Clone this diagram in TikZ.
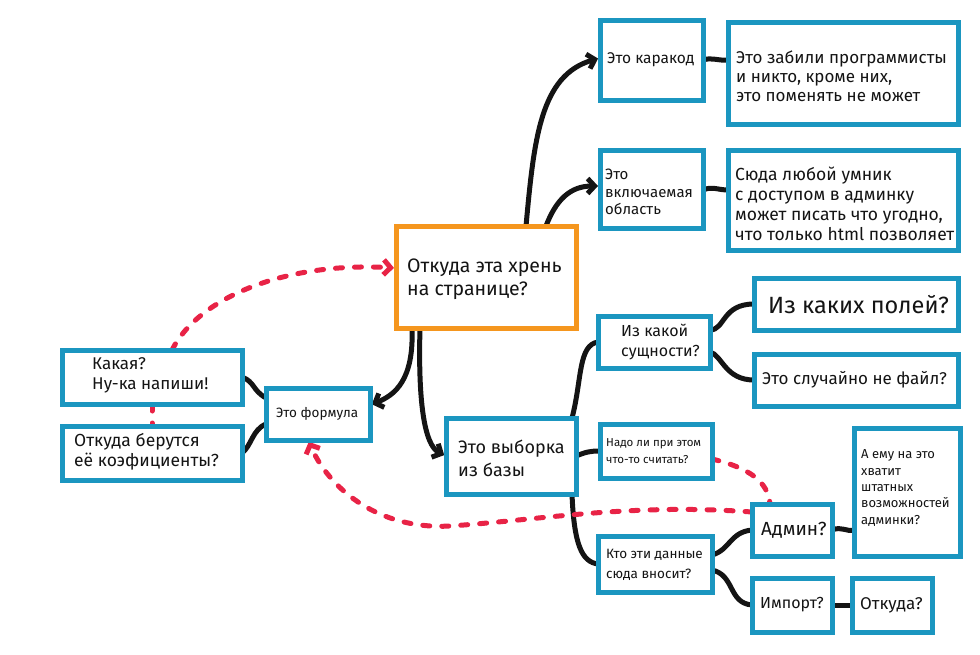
\documentclass[tikz,border=0pt]{standalone}
\usepackage{fontspec}
\setmainfont{Fira Sans}
\usetikzlibrary{arrows.meta}
\pgfdeclarelayer{bg}
\pgfsetlayers{bg,main}
\definecolor{bl}{RGB}{27,150,192}
\definecolor{orng}{RGB}{245,150,30}
\definecolor{rd}{RGB}{232,35,70}
\definecolor{ink}{RGB}{20,20,20}
\begin{document}
\begin{tikzpicture}[x=1pt,y=-1pt,
  box/.style={draw=bl, line width=5pt, fill=white, anchor=north west, inner sep=0, outer sep=0},
  obox/.style={box, draw=orng},
  t/.style 2 args={anchor=west, inner sep=0, align=left, text=ink, font=\fontsize{#1}{#2}\selectfont},
  link/.style={ink, line width=5pt, line cap=round},
  arr/.style={link, -{Straight Barb[length=7pt,width=15pt]}, shorten >=2pt},
  reddots/.style={rd, line width=5pt, line cap=round, dash pattern=on 7pt off 12pt},
  rarr/.style={reddots, -{Straight Barb[length=7pt,width=15pt]}, shorten >=2pt}
]
\useasboundingbox (0,0) rectangle (980,654);

% boxes
\node[obox, minimum width=180pt, minimum height=102pt] (main) at (396,226) {};
\node[box, minimum width=103pt, minimum height=80pt] (kar) at (600,20) {};
\node[box, minimum width=230pt, minimum height=102pt] (zab) at (728,22) {};
\node[box, minimum width=103pt, minimum height=78pt] (vkl) at (600,150) {};
\node[box, minimum width=230pt, minimum height=100pt] (syuda) at (728,150) {};
\node[box, minimum width=112pt, minimum height=52pt] (sush) at (598,316) {};
\node[box, minimum width=204pt, minimum height=52pt] (pol) at (754,278) {};
\node[box, minimum width=204pt, minimum height=52pt] (fail) at (754,354) {};
\node[box, minimum width=130pt, minimum height=76pt] (vyb) at (446,418) {};
\node[box, minimum width=112pt, minimum height=54pt] (nado) at (600,424) {};
\node[box, minimum width=106pt, minimum height=128pt] (emu) at (854,428) {};
\node[box, minimum width=80pt, minimum height=52pt] (adm) at (752,504) {};
\node[box, minimum width=114pt, minimum height=56pt] (kto) at (598,536) {};
\node[box, minimum width=80pt, minimum height=54pt] (imp) at (752,578) {};
\node[box, minimum width=80pt, minimum height=54pt] (otk) at (852,578) {};
\node[box, minimum width=104pt, minimum height=52pt] (form) at (266,388) {};
\node[box, minimum width=180pt, minimum height=54pt] (kak) at (62,350) {};
\node[box, minimum width=180pt, minimum height=54pt] (koef) at (62,426) {};

% texts
\node[t={19.5}{23}] (mainT) at (407,279) {Откуда эта хрень\\на странице?};
\node[t={15.5}{16}] (karT) at (607,60) {Это каракод};
\node[t={17}{19}] (zabT) at (736,76) {Это забили программисты\\и никто, кроме них,\\это поменять не может};
\node[t={15}{17.5}] (vklT) at (605,192) {Это\\включаемая\\область};
\node[t={17.5}{20}] (syudaT) at (735,204) {Сюда любой умник\\с доступом в админку\\может писать что угодно,\\что только html позволяет};
\node[t={16}{20}] (sushT) at (621,342) {Из какой\\сущности?};
\node[t={23.5}{28}] (polT) at (768,305) {Из каких полей?};
\node[t={17}{20}] (failT) at (762,380) {Это случайно не файл?};
\node[t={18}{23}] (vybT) at (458,458) {Это выборка\\из базы};
\node[t={11.5}{17}] (nadoT) at (606,451) {Надо ли при этом\\что-то считать?};
\node[t={13}{16.3}] (emuT) at (861,488) {А ему на это\\хватит\\штатных\\возможностей\\админки?};
\node[t={19}{23}] (admT) at (761,530) {Админ?};
\node[t={13.5}{20}] (ktoT) at (606,565) {Кто эти данные\\сюда вносит?};
\node[t={16}{20}] (impT) at (760,605) {Импорт?};
\node[t={17}{20}] (otkT) at (860,605) {Откуда?};
\node[t={13.5}{16}] (formT) at (276,414) {Это формула};
\node[t={17}{20}] (kakT) at (92,375) {Какая?\\Ну-ка напиши!};
\node[t={17.5}{20}] (koefT) at (74,452) {Откуда берутся\\её коэфициенты?};

\begin{pgfonlayer}{bg}
% black connectors
\draw[arr] ([xshift=130pt]main.north west) .. controls (534,140) and (540,75) .. ([yshift=2pt]kar.west);
\draw[arr] ([xshift=150pt]main.north west) .. controls (556,200) and (570,186) .. ([yshift=3pt]vkl.west);
\draw[link] (kar.east) .. controls (712,57) and (718,61) .. (kar.east -| zab.west);
\draw[link] ([yshift=-1pt]vkl.east) .. controls (712,186) and (718,190) .. ([yshift=-1pt]vkl.east -| syuda.west);
\draw[arr] ([xshift=16pt]main.south west) .. controls (414,380) and (395,395) .. ([yshift=9pt]form.east);
\draw[arr] ([xshift=24pt]main.south west) .. controls (418,400) and (424,445) .. (vyb.west);
\draw[link] ([xshift=-4pt]vyb.north east) .. controls (582,380) and (578,345) .. (sush.west);
\draw[link] (vyb.east) .. controls (586,452) and (590,451) .. ([yshift=0pt]nado.west);
\draw[link] ([xshift=-4pt]vyb.south east) .. controls (574,545) and (582,562) .. (kto.west);
\draw[link] ([yshift=12pt]sush.east) .. controls (725,330) and (722,304) .. (pol.west);
\draw[link] ([yshift=-10pt]sush.east) .. controls (722,355) and (725,380) .. (fail.west);
\draw[link] ([yshift=9pt]kto.east) .. controls (730,550) and (730,532) .. (adm.west);
\draw[link] ([yshift=-6pt]kto.east) .. controls (735,575) and (728,603) .. (imp.west);
\draw[link] (adm.east) .. controls (842,526) and (846,532) .. (adm.east -| emu.west);
\draw[link] (imp.east) -- (otk.west);
\draw[link] ([yshift=16pt]form.west) .. controls (252,390) and (255,382) .. (kak.east);
\draw[link] ([yshift=-10pt]form.west) .. controls (252,430) and (252,445) .. (koef.east);
% red dotted connectors
\draw[rarr] ([xshift=110pt]kak.north west) .. controls (200,295) and (290,262) .. ([yshift=9pt]main.west);
\draw[reddots] (kak.south -| koef.north) -- (koef.north);
\draw[rarr] ([yshift=18pt]adm.west) .. controls (630,503) and (540,520) .. (450,526)
   .. controls (380,530) and (330,490) .. ([xshift=-10pt]form.south);
\draw[reddots] ([yshift=-8pt]nado.east) .. controls (750,468) and (768,482) .. ([xshift=18pt]adm.north west);
\end{pgfonlayer}
\end{tikzpicture}
\end{document}
